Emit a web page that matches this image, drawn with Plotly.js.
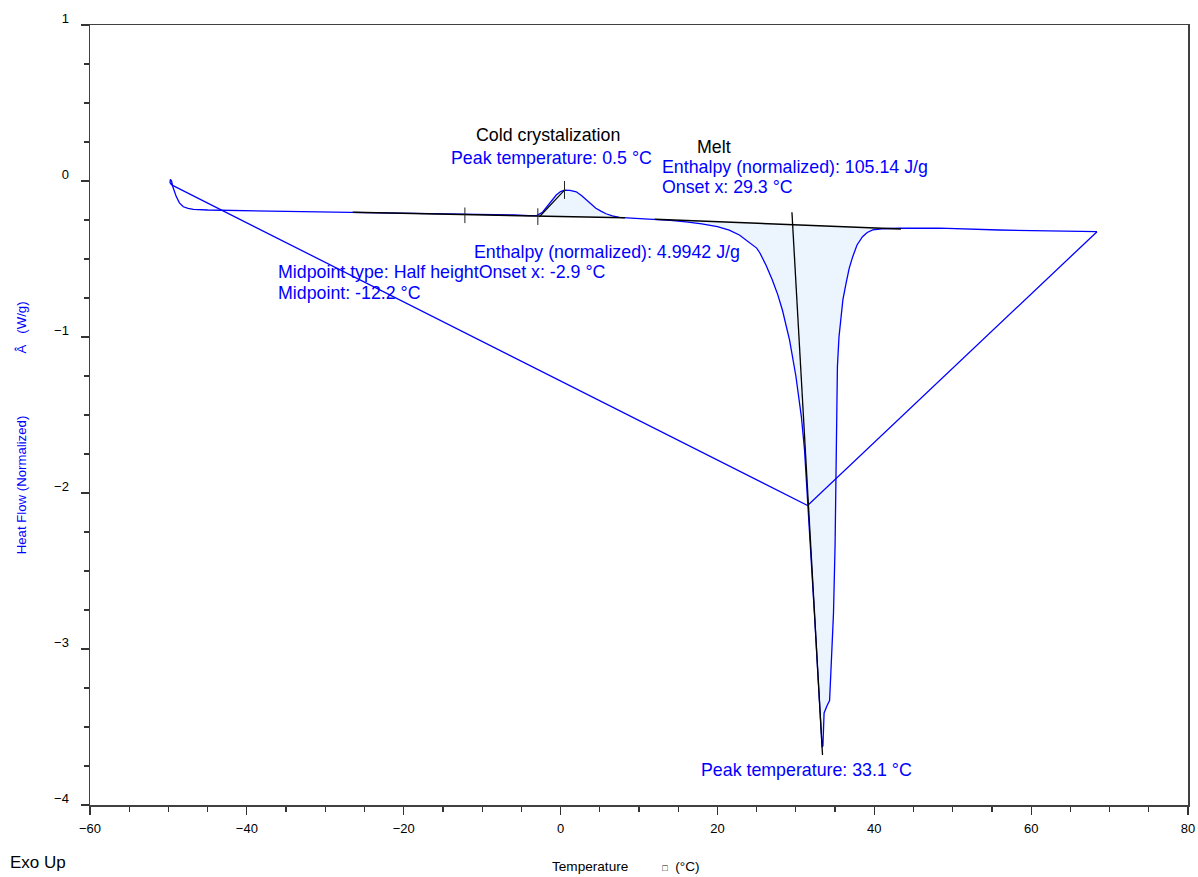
<!DOCTYPE html>
<html>
<head>
<meta charset="utf-8">
<script src="https://cdn.plot.ly/plotly-3.0.1.min.js"></script>
<style>html,body{margin:0;padding:0;background:#fff;}#chart{width:1198px;height:877px;}</style>
</head>
<body>
<div id="chart"></div>
<script>
// Heating curve: temperature (°C) and normalized heat flow (W/g)
const heatT = [-49.6, -49.8, -49.75, -49.6, -49.45, -49.3, -49.0, -48.6, -48.1, -47.5, -46.8, -45, -40, -33, -27, -20, -12, -6, -4, -3, -2.3, -1.8, -1.2, -0.55, 0, 0.5, 1.2, 2.0, 2.7, 3.3, 3.9, 4.5, 5.2, 5.8, 6.6, 7.5, 9, 10, 12, 14, 16, 18, 20, 21.5, 22.8, 24, 25, 25.4, 26.2, 27.0, 27.7, 28.3, 29.2, 30.0, 30.7, 31.1, 31.5, 31.95, 32.4, 32.85, 33.1, 33.25, 33.35, 33.45, 33.6, 34.0, 34.3, 34.5, 34.8, 35.0, 35.1, 35.15, 35.3, 35.5, 35.75, 36.0, 36.4, 36.8, 37.25, 37.8, 38.5, 39.1, 39.8, 41, 43.2, 48.3, 55.9, 62, 68.4];
const heatF = [-0.025, -0.01, 0.01, 0.0, -0.035, -0.06, -0.10, -0.14, -0.165, -0.176, -0.182, -0.186, -0.19, -0.197, -0.2, -0.205, -0.21, -0.218, -0.222, -0.22, -0.2, -0.168, -0.128, -0.09, -0.068, -0.058, -0.06, -0.069, -0.095, -0.122, -0.15, -0.175, -0.195, -0.21, -0.224, -0.233, -0.238, -0.24, -0.245, -0.252, -0.262, -0.275, -0.293, -0.315, -0.346, -0.39, -0.43, -0.46, -0.54, -0.635, -0.73, -0.83, -1.02, -1.25, -1.51, -1.72, -2.04, -2.4, -2.8, -3.2, -3.45, -3.6, -3.63, -3.62, -3.41, -3.36, -3.33, -3.11, -2.77, -2.34, -2.04, -1.62, -1.19, -1.0, -0.87, -0.76, -0.656, -0.56, -0.485, -0.41, -0.357, -0.33, -0.314, -0.306, -0.303, -0.302, -0.314, -0.32, -0.325];
// Cooling segment
const coolT = [68.4, 31.5, -49.6];
const coolF = [-0.325, -2.08, -0.025];
// Analysis construction lines
const ccBaseT = [-26.5, 8.2];
const ccBaseF = [-0.2, -0.236];
const ccTangentT = [-2.7, 0.5];
const ccTangentF = [-0.229, -0.058];
const meltBaseT = [12, 43.4];
const meltBaseF = [-0.245, -0.308];
const meltTangentT = [29.5, 33.4];
const meltTangentF = [-0.2, -3.68];
// Marker ticks (x, y from, y to)
const tickX = [-12.2, -2.9, 0.5];
const tickTop = [-0.17, -0.175, 0.0];
const tickBottom = [-0.27, -0.282, -0.115];
// Integration ranges
const ccRange = [-2.9, 8.2];
const meltRange = [12, 43.4];

function baseAt(bx, by, x) {
  return by[0] + (by[1] - by[0]) * (x - bx[0]) / (bx[1] - bx[0]);
}
function fillPoly(range, bx, by) {
  const xs = [], ys = [];
  xs.push(range[0]); ys.push(baseAt(bx, by, range[0]));
  for (let i = 5; i < heatT.length; i++) {
    if (heatT[i] > range[0] && heatT[i] < range[1]) { xs.push(heatT[i]); ys.push(heatF[i]); }
  }
  xs.push(range[1]); ys.push(baseAt(bx, by, range[1]));
  xs.push(range[0]); ys.push(baseAt(bx, by, range[0]));
  return {xs, ys};
}
const ccPoly = fillPoly(ccRange, ccBaseT, ccBaseF);
const meltPoly = fillPoly(meltRange, meltBaseT, meltBaseF);

const BLUE = '#0000ff';
const FILL = '#ecf4fd';
const traces = [
  {x: ccPoly.xs, y: ccPoly.ys, mode: 'lines', fill: 'toself', fillcolor: FILL, line: {width: 0}, hoverinfo: 'skip'},
  {x: meltPoly.xs, y: meltPoly.ys, mode: 'lines', fill: 'toself', fillcolor: FILL, line: {width: 0}, hoverinfo: 'skip'},
  {x: heatT, y: heatF, mode: 'lines', line: {color: BLUE, width: 1.3}},
  {x: coolT, y: coolF, mode: 'lines', line: {color: BLUE, width: 1.3}},
  {x: ccBaseT, y: ccBaseF, mode: 'lines', line: {color: '#000', width: 1.5}},
  {x: ccTangentT, y: ccTangentF, mode: 'lines', line: {color: '#000', width: 1.2}},
  {x: meltBaseT, y: meltBaseF, mode: 'lines', line: {color: '#000', width: 1.5}},
  {x: meltTangentT, y: meltTangentF, mode: 'lines', line: {color: '#000', width: 1.3}}
];
for (let i = 0; i < tickX.length; i++) {
  traces.push({x: [tickX[i], tickX[i]], y: [tickTop[i], tickBottom[i]], mode: 'lines', line: {color: '#222', width: 1}});
}

const F = 'Liberation Sans, Arial, sans-serif';
const NB = '\u00a0';
const PAD = '<span style="color:rgba(0,0,0,0)">.</span>';
function ann(text, x, y, xanchor, color) {
  return {text: text, x: x, y: y, xref: 'x', yref: 'y', xanchor: xanchor, yanchor: 'middle', showarrow: false, font: {family: F, size: 17.8, color: color}};
}
const layout = {
  width: 1198, height: 877,
  margin: {l: 90, r: 10, t: 25, b: 72},
  paper_bgcolor: '#fff', plot_bgcolor: '#fff',
  showlegend: false,
  font: {family: F, size: 13, color: '#000'},
  xaxis: {
    range: [-60, 80], dtick: 20, tick0: 0, showgrid: false, zeroline: false,
    ticks: 'outside', ticklen: 8, tickwidth: 1.2, tickcolor: '#333',
    minor: {dtick: 5, ticks: 'outside', ticklen: 5, tickwidth: 1.2, tickcolor: '#333', showgrid: false},
    showline: true, linecolor: '#404040', linewidth: 1.5, mirror: true,
    tickfont: {family: F, size: 13, color: '#000'}, ticklabelstandoff: 3,
    title: {text: 'Temperature' + NB.repeat(9) + '<span style="font-size:9px">\u25a1</span>' + NB.repeat(2) + '(°C)' + NB.repeat(6) + PAD, font: {family: F, size: 13.6, color: '#000'}, standoff: 26}
  },
  yaxis: {
    range: [-4, 1], dtick: 1, tick0: 0, showgrid: false, zeroline: false,
    ticks: 'outside', ticklen: 8, tickwidth: 1.2, tickcolor: '#333',
    minor: {dtick: 0.25, ticks: 'outside', ticklen: 5, tickwidth: 1.2, tickcolor: '#333', showgrid: false},
    showline: true, linecolor: '#404040', linewidth: 1.5, mirror: true,
    tickfont: {family: F, size: 13, color: '#000'}, ticklabelstandoff: 9, ticklabelshift: -7,
    title: {text: 'Heat Flow (Normalized)' + NB.repeat(17) + 'Â' + NB.repeat(3) + '(W/g)' + NB.repeat(6) + PAD, font: {family: F, size: 13.2, color: BLUE}, standoff: 24}
  },
  annotations: [
    ann('Cold crystalization', -1.6, 0.295, 'center', '#000'),
    ann('Peak temperature: 0.5 °C', -14.2, 0.147, 'left', BLUE),
    ann('Melt', 19.55, 0.218, 'center', '#000'),
    ann('Enthalpy (normalized): 105.14 J/g', 12.7, 0.09, 'left', BLUE),
    ann('Onset x: 29.3 °C', 12.7, -0.038, 'left', BLUE),
    ann('Enthalpy (normalized): 4.9942 J/g', -11.3, -0.455, 'left', BLUE),
    ann('Midpoint type: Half heightOnset x: -2.9 °C', -36.3, -0.583, 'left', BLUE),
    ann('Midpoint: -12.2 °C', -36.3, -0.718, 'left', BLUE),
    ann('Peak temperature: 33.1 °C', 17.65, -3.776, 'left', BLUE),
    {text: 'Exo Up', x: -0.0747, y: -0.0731, xref: 'paper', yref: 'paper', xanchor: 'left', yanchor: 'middle', showarrow: false, font: {family: F, size: 17, color: '#000'}}
  ]
};
Plotly.newPlot('chart', traces, layout, {displayModeBar: false, staticPlot: true});
</script>
</body>
</html>
